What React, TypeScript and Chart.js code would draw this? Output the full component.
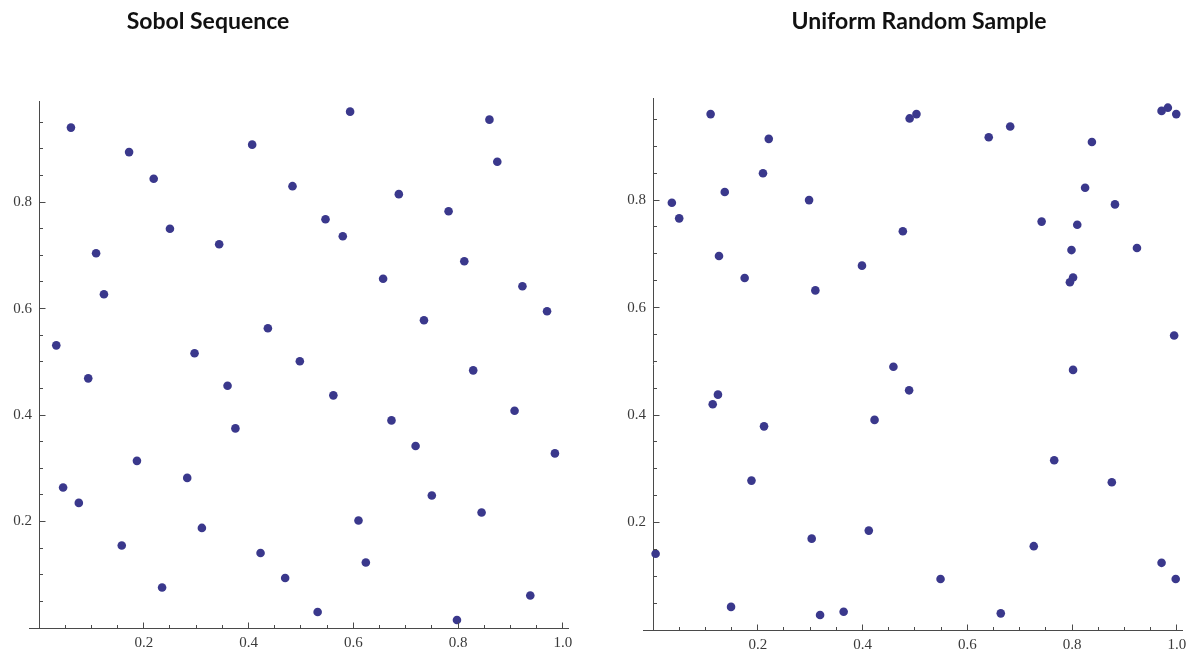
import React, { useEffect, useRef } from "react";
import { Chart, registerables } from "chart.js";

Chart.register(...registerables);

// ---- data ----
const titles = ["Sobol Sequence", "Uniform Random Sample"];

const sobolX = [0.061, 0.172, 0.219, 0.407, 0.484, 0.250, 0.344, 0.109, 0.124, 0.437,
  0.033, 0.297, 0.498, 0.094, 0.360, 0.375, 0.187, 0.046, 0.283, 0.076,
  0.311, 0.158, 0.423, 0.470, 0.235, 0.594, 0.860, 0.875, 0.687, 0.782,
  0.547, 0.580, 0.812, 0.657, 0.923, 0.970, 0.735, 0.829, 0.562, 0.908,
  0.673, 0.719, 0.985, 0.750, 0.845, 0.610, 0.624, 0.532, 0.798, 0.938];
const sobolY = [0.940, 0.894, 0.844, 0.908, 0.830, 0.750, 0.721, 0.704, 0.627, 0.563,
  0.531, 0.516, 0.501, 0.469, 0.455, 0.375, 0.314, 0.264, 0.282, 0.235,
  0.188, 0.155, 0.141, 0.094, 0.076, 0.970, 0.955, 0.876, 0.815, 0.783,
  0.768, 0.736, 0.689, 0.656, 0.642, 0.595, 0.578, 0.484, 0.437, 0.408,
  0.390, 0.342, 0.328, 0.249, 0.217, 0.202, 0.123, 0.030, 0.015, 0.061];

const uniformX = [0.110, 0.221, 0.210, 0.137, 0.036, 0.050, 0.298, 0.126, 0.175, 0.399,
  0.310, 0.477, 0.459, 0.124, 0.114, 0.423, 0.212, 0.188, 0.303, 0.412,
  0.005, 0.149, 0.319, 0.364, 0.490, 0.503, 0.641, 0.682, 0.838, 0.971,
  0.983, 0.999, 0.825, 0.882, 0.742, 0.810, 0.799, 0.924, 0.802, 0.796,
  0.995, 0.489, 0.802, 0.766, 0.876, 0.727, 0.971, 0.998, 0.549, 0.664];
const uniformY = [0.960, 0.914, 0.850, 0.815, 0.795, 0.766, 0.800, 0.696, 0.655, 0.678,
  0.632, 0.742, 0.490, 0.438, 0.420, 0.391, 0.379, 0.278, 0.170, 0.185,
  0.142, 0.043, 0.028, 0.034, 0.952, 0.960, 0.917, 0.937, 0.908, 0.966,
  0.972, 0.960, 0.823, 0.792, 0.760, 0.754, 0.707, 0.711, 0.656, 0.647,
  0.548, 0.446, 0.484, 0.316, 0.275, 0.156, 0.125, 0.095, 0.095, 0.031];

const xTickLabels = ["0.2", "0.4", "0.6", "0.8", "1.0"];
const yTickLabels = ["0.2", "0.4", "0.6", "0.8"];

// ---- styles ----
const POINT_COLOR = "#3a388c";
const AXIS_COLOR = "#4a4a4a";
const LABEL_COLOR = "#3a3a3a";
const LABEL_FONT = "'Liberation Serif', 'DejaVu Serif', serif";

const align = (p: number) => Math.round(p - 0.5) + 0.5;

const innerTicks = {
  id: "innerTicks",
  afterDraw(chart: any) {
    const { ctx, chartArea, scales } = chart;
    const xs = scales.x;
    const ys = scales.y;
    const by = align(chartArea.bottom);
    const bx = align(chartArea.left);
    const isMajor = (v: number) => Math.abs(v / 0.2 - Math.round(v / 0.2)) < 1e-6;
    ctx.save();
    ctx.strokeStyle = AXIS_COLOR;
    ctx.lineWidth = 1;
    ctx.beginPath();
    // x-axis line extends a little to the left of the vertical axis
    ctx.moveTo(chartArea.left - 10, by);
    ctx.lineTo(chartArea.left, by);
    xs.ticks.forEach((t: any) => {
      if (t.value <= 1e-9) return;
      const px = align(xs.getPixelForValue(t.value));
      const len = isMajor(t.value) ? 6 : 3.5;
      ctx.moveTo(px, by);
      ctx.lineTo(px, by - len);
    });
    ys.ticks.forEach((t: any) => {
      if (t.value <= 1e-9) return;
      const py = align(ys.getPixelForValue(t.value));
      const len = isMajor(t.value) ? 6 : 3.5;
      ctx.moveTo(bx, py);
      ctx.lineTo(bx + len, py);
    });
    ctx.stroke();
    ctx.restore();
  },
};

const labelFor = (labels: string[]) => (v: number | string) => {
  const n = Number(v);
  const hit = labels.find((l) => Math.abs(parseFloat(l) - n) < 1e-6);
  return hit ?? "";
};

type Layout = { yWidth: number; xHeight: number; padRight: number; padTop: number };

function makeConfig(xs: number[], ys: number[], lay: Layout): any {
  return {
    type: "scatter",
    data: {
      datasets: [
        {
          data: xs.map((x, i) => ({ x, y: ys[i] })),
          backgroundColor: POINT_COLOR,
          borderColor: POINT_COLOR,
          borderWidth: 0,
          pointRadius: 4.3,
          pointHoverRadius: 4.3,
          clip: false,
        },
      ],
    },
    options: {
      animation: false,
      responsive: false,
      maintainAspectRatio: false,
      events: [],
      layout: { padding: { left: 0, right: lay.padRight, top: lay.padTop, bottom: 0 } },
      plugins: {
        legend: { display: false },
        tooltip: { enabled: false },
        title: { display: false },
      },
      scales: {
        x: {
          type: "linear",
          position: "bottom",
          min: 0,
          max: 1.01,
          grid: { display: false, drawTicks: false },
          border: { display: true, color: AXIS_COLOR, width: 1 },
          ticks: {
            stepSize: 0.05,
            autoSkip: false,
            includeBounds: false,
            maxRotation: 0,
            padding: 6,
            color: LABEL_COLOR,
            font: { family: LABEL_FONT, size: 15 },
            callback: labelFor(xTickLabels),
          },
          afterFit: (s: any) => {
            s.height = lay.xHeight;
          },
        },
        y: {
          type: "linear",
          position: "left",
          min: 0,
          max: 0.99,
          grid: { display: false, drawTicks: false },
          border: { display: true, color: AXIS_COLOR, width: 1 },
          ticks: {
            stepSize: 0.05,
            autoSkip: false,
            includeBounds: false,
            padding: 7,
            color: LABEL_COLOR,
            font: { family: LABEL_FONT, size: 15 },
            callback: labelFor(yTickLabels),
          },
          afterFit: (s: any) => {
            s.width = lay.yWidth;
          },
        },
      },
    },
    plugins: [innerTicks],
  };
}

function ScatterPanel(props: { xs: number[]; ys: number[]; lay: Layout; left: number }) {
  const ref = useRef<HTMLCanvasElement | null>(null);
  useEffect(() => {
    if (!ref.current) return;
    const chart = new Chart(ref.current, makeConfig(props.xs, props.ys, props.lay));
    return () => chart.destroy();
  }, []);
  return (
    <canvas
      ref={ref}
      width={597}
      height={652}
      style={{ position: "absolute", left: props.left, top: 0, width: 597, height: 652 }}
    />
  );
}

const titleStyle = (center: number): React.CSSProperties => ({
  position: "absolute",
  left: center - 250,
  width: 500,
  top: 7,
  textAlign: "center",
  fontFamily: "Lato, 'Open Sans', sans-serif",
  fontWeight: 700,
  fontSize: 23,
  lineHeight: "27.6px",
  color: "#111",
});

export default function App() {
  return (
    <div style={{ position: "absolute", left: 0, top: 0, width: 1194, height: 652, background: "#fff", overflow: "hidden" }}>
      <ScatterPanel xs={sobolX} ys={sobolY} left={0} lay={{ yWidth: 39, xHeight: 24, padRight: 29, padTop: 101 }} />
      <ScatterPanel xs={uniformX} ys={uniformY} left={597} lay={{ yWidth: 56, xHeight: 22, padRight: 12, padTop: 98 }} />
      <div style={titleStyle(208)}>{titles[0]}</div>
      <div style={titleStyle(919)}>{titles[1]}</div>
    </div>
  );
}
